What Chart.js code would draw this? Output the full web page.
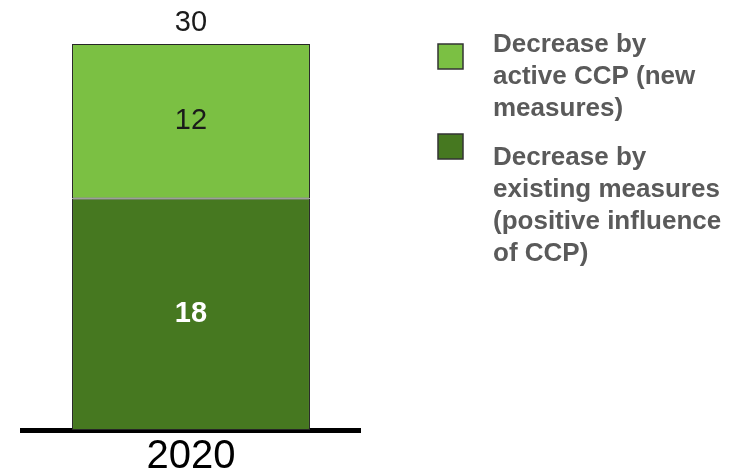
<!DOCTYPE html>
<html>
<head>
<meta charset="utf-8">
<script src="https://cdn.jsdelivr.net/npm/chart.js@4.4.1/dist/chart.umd.min.js"></script>
<style>
  html, body { margin: 0; padding: 0; background: #fff; }
  #wrap { position: relative; width: 729px; height: 474px; }
</style>
</head>
<body>
<div id="wrap"><canvas id="ccpChart" width="729" height="474"></canvas></div>
<script>
// 카테고리 / 시리즈 값
const years = ['2020'];
const existingMeasures = [18];
const newMeasures = [12];
const totals = [30];

// 범례 문구 (줄 단위)
const newLabelLines = ['Decrease by', 'active CCP (new', 'measures)'];
const existingLabelLines = ['Decrease by', 'existing measures', '(positive influence', 'of CCP)'];

const DARK = '#467820';
const LIGHT = '#7bc043';
const FONT = '"Liberation Sans", Arial, sans-serif';

// 막대 안 값 + 상단 합계
const valueLabels = {
    id: 'valueLabels',
    afterDatasetsDraw(chart) {
        const ctx = chart.ctx;
        ctx.save();
        ctx.textAlign = 'center';
        ctx.textBaseline = 'middle';
        chart.data.datasets.forEach((ds, i) => {
            const meta = chart.getDatasetMeta(i);
            meta.data.forEach((bar, j) => {
                ctx.font = ds.labelFont;
                ctx.fillStyle = ds.labelColor;
                ctx.fillText(String(ds.data[j]), bar.x, (bar.y + bar.base) / 2);
            });
        });
        const top = chart.getDatasetMeta(chart.data.datasets.length - 1).data;
        top.forEach((bar, j) => {
            ctx.font = '29px ' + FONT;
            ctx.fillStyle = '#1a1a1a';
            ctx.fillText(String(totals[j]), bar.x, bar.y - 21);
        });
        ctx.restore();
    }
};

// 오른쪽 범례 (사각형 + 여러 줄 텍스트)
const sideLegend = {
    id: 'sideLegend',
    afterDraw(chart) {
        const ctx = chart.ctx;
        const items = [
            { color: LIGHT, lines: newLabelLines, box: 44, text: 45 },
            { color: DARK, lines: existingLabelLines, box: 134, text: 158 }
        ];
        ctx.save();
        items.forEach(it => {
            ctx.fillStyle = it.color;
            ctx.fillRect(438, it.box, 25, 25);
            ctx.strokeStyle = '#333';
            ctx.lineWidth = 1.5;
            ctx.strokeRect(438, it.box, 25, 25);

            ctx.font = 'bold 26px ' + FONT;
            ctx.fillStyle = '#5a5a5a';
            ctx.textAlign = 'left';
            ctx.textBaseline = 'middle';
            it.lines.forEach((line, k) => ctx.fillText(line, 493, it.text + k * 32));
        });
        ctx.restore();
    }
};

new Chart(document.getElementById('ccpChart').getContext('2d'), {
    type: 'bar',
    data: {
        labels: years,
        datasets: [
            {
                label: existingLabelLines.join(' '),
                data: existingMeasures,
                backgroundColor: DARK,
                labelColor: '#ffffff',
                labelFont: 'bold 29px ' + FONT
            },
            {
                label: newLabelLines.join(' '),
                data: newMeasures,
                backgroundColor: LIGHT,
                labelColor: '#1a1a1a',
                labelFont: '29px ' + FONT
            }
        ]
    },
    options: {
        responsive: false,
        animation: false,
        layout: { padding: { top: 44, left: 22, right: 369, bottom: 0 } },
        datasets: {
            bar: {
                borderColor: '#262626',
                borderWidth: 1,
                borderSkipped: false,
                categoryPercentage: 1,
                barPercentage: 0.704
            }
        },
        plugins: { legend: { display: false }, tooltip: { enabled: false } },
        scales: {
            x: {
                stacked: true,
                grid: { display: false, drawTicks: false },
                border: { color: '#000', width: 5 },
                ticks: { color: '#000', padding: 11, font: { family: FONT, size: 40, lineHeight: 0.8 } },
                // 축 높이 고정 → 기준선 y=430
                afterFit(scale) { scale.height = 44; }
            },
            y: { stacked: true, display: false, min: 0, max: 30 }
        }
    },
    plugins: [valueLabels, sideLegend]
});
</script>
</body>
</html>
